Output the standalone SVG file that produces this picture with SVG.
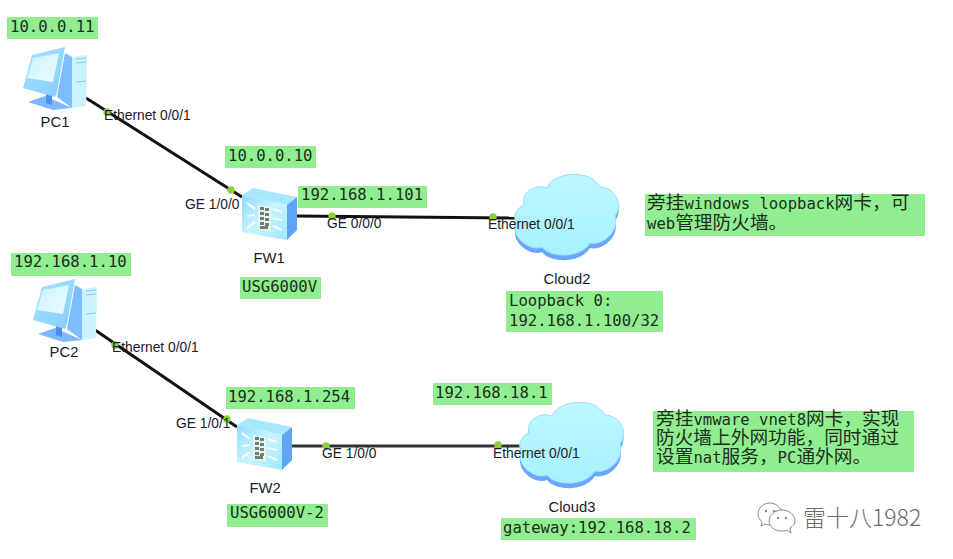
<svg xmlns="http://www.w3.org/2000/svg" xmlns:xlink="http://www.w3.org/1999/xlink" width="953" height="559" viewBox="0 0 953 559">
<style>
.note{fill:#90ee90}
.m{font-family:"DejaVu Sans Mono","Liberation Mono",monospace;font-size:15.6px;fill:#1c2e1c}
.c{font-family:"Noto Sans CJK SC",sans-serif;font-size:18.7px;fill:#1c2e1c}
.l{font-family:"Liberation Sans",Arial,sans-serif;font-size:13.8px;fill:#1a1a2a}
.n{font-family:"Liberation Sans",Arial,sans-serif;font-size:14.8px;fill:#1a1a2a;text-anchor:middle}
.w{stroke:#111;stroke-width:3;fill:none}
.d{fill:#8ccf3c}
.wm{font-family:"Noto Sans CJK SC","DejaVu Sans",sans-serif;font-size:23px;fill:#6a6a6a;font-weight:300}
.ar{stroke:#fff;stroke-width:1.6;fill:none}
.br{fill:#6f7f78}
</style>
<defs>
<linearGradient id="mon" x1="0" y1="0" x2="1" y2="1"><stop offset="0" stop-color="#a5e4ff"/><stop offset="1" stop-color="#86ccff"/></linearGradient>
<linearGradient id="scr" x1="0" y1="0" x2="1" y2="1"><stop offset="0" stop-color="#c8f2ff"/><stop offset="1" stop-color="#f0fbff"/></linearGradient>
<linearGradient id="fwf" x1="0" y1="0" x2="1" y2="1"><stop offset="0" stop-color="#8fdcff"/><stop offset="0.5" stop-color="#c8f4ff"/><stop offset="1" stop-color="#9fe6ff"/></linearGradient>
<linearGradient id="cl" x1="0" y1="0" x2="0" y2="1"><stop offset="0" stop-color="#bdf6ff"/><stop offset="1" stop-color="#a6f2ff"/></linearGradient>
<g id="pc">
<path d="M28 102 45 96 72 108 53 110Z" fill="#7db8ff"/>
<path d="M46 94 52 92 52 105 46 103Z" fill="#4f8df5"/>
<path d="M65 53 72 57 72 108 57 97Z" fill="#7cbcff"/>
<path d="M72 57 87 55 86 106 72 108Z" fill="#c9f3ff"/>
<path d="M76 59 86 58M76 63 86 62M76 82 86 81" stroke="#8fc8f0" stroke-width="1"/>
<path d="M32 55 65 47 57 92 55 97 23 88Z" fill="url(#mon)"/>
<path d="M33 58 59 53 53 82 27 78Z" fill="url(#scr)"/>
</g>
<g id="fw">
<path d="M242 195 253 188 297 197 287 205Z" fill="#a8e8ff"/>
<path d="M287 205 297 197 297 230 287 240Z" fill="#5fa4f5"/>
<path d="M242 195 287 205 287 240 242 232Z" fill="url(#fwf)"/>
<path d="M258 205 271 207 271 232 258 229Z" fill="#e6f6ef"/>
<g class="br">
<rect x="260" y="207" width="4" height="3"/><rect x="265" y="208" width="4" height="3"/>
<rect x="260" y="212" width="4" height="3"/><rect x="265" y="213" width="4" height="3"/>
<rect x="260" y="217" width="4" height="3"/><rect x="265" y="218" width="4" height="3"/>
<rect x="260" y="222" width="4" height="3"/><rect x="265" y="223" width="4" height="3"/>
<rect x="260" y="226" width="8" height="3"/>
</g>
<path class="ar" d="M247 203 255 209M247 216 255 215M247 228 255 222M273 209 282 212M273 218 282 220M273 226 282 230"/>
</g>
<path id="cloudshape" d="M524 205C520 193 535 183 547 188C553 172 590 168 600 187C615 187 624 205 615 216C620 232 602 246 590 243C580 259 550 258 542 247C530 252 510 237 516 222C512 215 518 207 524 205Z"/>
<g id="cloud">
<use xlink:href="#cloudshape" href="#cloudshape" y="5" fill="#68a6ff"/>
<use xlink:href="#cloudshape" href="#cloudshape" fill="url(#cl)" stroke="#9fdcff" stroke-width="1"/>
</g>
</defs>

<g id="connectors">
<path class="w" d="M86 98 242 197"/>
<path class="w" d="M297 216 515 218"/>
<path class="w" d="M95 330 237 427"/>
<path class="w" style="stroke:#333" d="M292 446 520 446"/>
</g>

<g id="PC1"><use xlink:href="#pc" href="#pc"/><text class="n" x="55" y="127">PC1</text></g>
<g id="PC2"><use xlink:href="#pc" href="#pc" x="10" y="232"/><text class="n" x="64" y="357">PC2</text></g>
<g id="FW1"><use xlink:href="#fw" href="#fw"/><text class="n" x="269" y="263">FW1</text></g>
<g id="FW2"><use xlink:href="#fw" href="#fw" x="-5" y="230"/><text class="n" x="265" y="493">FW2</text></g>
<g id="Cloud2"><use xlink:href="#cloud" href="#cloud"/><text class="n" x="567" y="284">Cloud2</text></g>
<g id="Cloud3"><use xlink:href="#cloud" href="#cloud" x="5" y="228"/><text class="n" x="572" y="512">Cloud3</text></g>

<g id="ports">
<circle class="d" cx="107" cy="112" r="3.7"/><circle class="d" cx="231" cy="190" r="3.7"/>
<circle class="d" cx="332" cy="216" r="3.7"/><circle class="d" cx="493" cy="217" r="3.7"/>
<circle class="d" cx="115" cy="345" r="3.7"/><circle class="d" cx="227" cy="419" r="3.7"/>
<circle class="d" cx="326" cy="446" r="3.7"/><circle class="d" cx="498" cy="445" r="3.7"/>
<text class="l" x="104" y="120">Ethernet 0/0/1</text>
<text class="l" x="185" y="209">GE 1/0/0</text>
<text class="l" x="327" y="228">GE 0/0/0</text>
<text class="l" x="488" y="229">Ethernet 0/0/1</text>
<text class="l" x="112" y="352">Ethernet 0/0/1</text>
<text class="l" x="176" y="428">GE 1/0/1</text>
<text class="l" x="322" y="458">GE 1/0/0</text>
<text class="l" x="493" y="458">Ethernet 0/0/1</text>
</g>

<g id="notes">
<rect class="note" x="7" y="17" width="91" height="22"/><text class="m" x="10" y="32">10.0.0.11</text>
<rect class="note" x="225" y="146" width="91" height="22"/><text class="m" x="228" y="161">10.0.0.10</text>
<rect class="note" x="298" y="186" width="129" height="22"/><text class="m" x="301" y="200">192.168.1.101</text>
<rect class="note" x="240" y="277" width="81" height="22"/><text class="m" x="242" y="292">USG6000V</text>
<rect class="note" x="645" y="194" width="280" height="42"/>
<text x="647" y="209"><tspan class="c">旁挂</tspan><tspan class="m">windows loopback</tspan><tspan class="c">网卡，可</tspan></text>
<text x="647" y="229"><tspan class="m">web</tspan><tspan class="c">管理防火墙。</tspan></text>
<rect class="note" x="506" y="291" width="157" height="41"/>
<text class="m" x="509" y="306">Loopback 0:</text><text class="m" x="509" y="326">192.168.1.100/32</text>
<rect class="note" x="11" y="253" width="120" height="23"/><text class="m" x="14" y="267">192.168.1.10</text>
<rect class="note" x="226" y="387" width="129" height="22"/><text class="m" x="228" y="402">192.168.1.254</text>
<rect class="note" x="227" y="504" width="101" height="23"/><text class="m" x="230" y="518">USG6000V-2</text>
<rect class="note" x="433" y="383" width="119" height="22"/><text class="m" x="435" y="398">192.168.18.1</text>
<rect class="note" x="653" y="411" width="261" height="61"/>
<text x="656" y="425"><tspan class="c">旁挂</tspan><tspan class="m">vmware vnet8</tspan><tspan class="c">网卡，实现</tspan></text>
<text x="656" y="444"><tspan class="c">防火墙上外网功能，同时通过</tspan></text>
<text x="656" y="463"><tspan class="c">设置</tspan><tspan class="m">nat</tspan><tspan class="c">服务，</tspan><tspan class="m">PC</tspan><tspan class="c">通外网。</tspan></text>
<rect class="note" x="501" y="518" width="195" height="22"/><text class="m" x="503" y="533">gateway:192.168.18.2</text>
</g>

<g id="watermark">
<path d="M770 503C763 503 758 508 758 514C758 517 760 520 762 522L761 526 765 524C767 525 769 525 770 525C776 525 782 520 782 514C782 508 776 503 770 503Z" fill="#fff" stroke="#8a8a8a" stroke-width="1"/>
<path d="M782 510C775 510 769 515 769 521C769 527 775 531 782 531C784 531 785 531 787 530L791 533 790 528C793 526 795 524 795 521C795 515 789 510 782 510Z" fill="#fff" stroke="#8a8a8a" stroke-width="1"/>
<circle cx="766" cy="511" r="1.2" fill="#8a8a8a"/><circle cx="774" cy="511" r="1.2" fill="#8a8a8a"/>
<circle cx="778" cy="518" r="1.2" fill="#8a8a8a"/><circle cx="786" cy="518" r="1.2" fill="#8a8a8a"/>
<text class="wm" x="803" y="526">雷十八1982</text>
</g>
</svg>
